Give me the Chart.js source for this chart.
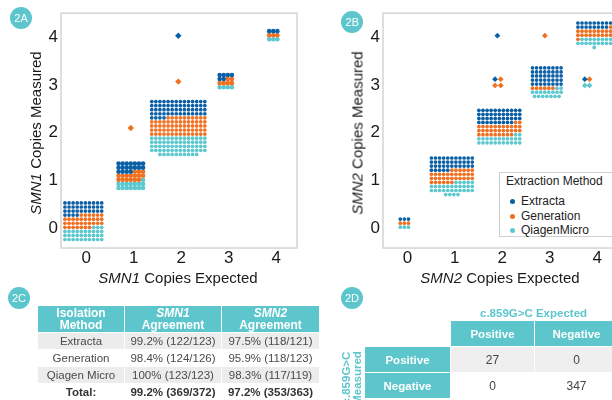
<!DOCTYPE html>
<html>
<head>
<meta charset="utf-8">
<script src="https://cdn.jsdelivr.net/npm/chart.js@4.4.1/dist/chart.umd.min.js"></script>
<style>
body { margin:0; width:612px; height:400px; overflow:hidden; position:relative; background:#fff;
       font-family:"Liberation Sans", Arial, sans-serif; }
canvas { position:absolute; top:0; }
.badge { position:absolute; width:22px; height:22px; border-radius:50%; background:#5cc6cc; color:#fff;
         font-size:11px; line-height:22px; text-align:center; }
.axtitle { position:absolute; font-size:15px; color:#1a1a1a; white-space:nowrap; transform:translate(-50%,-50%); }
.axtitle.rot { transform:translate(-50%,-50%) rotate(-90deg); }
.legend { position:absolute; left:499px; top:172px; width:112px; height:63px; border:1px solid #cfcfcf;
          background:#fff; font-size:12px; color:#222; }
.legend div { position:absolute; white-space:nowrap; }
.legend .dot { width:5px; height:5px; border-radius:50%; }
table { position:absolute; border-collapse:collapse; table-layout:fixed; }
td, th { padding:0; text-align:center; border:1.5px solid #fff; white-space:nowrap; }
th { background:#5cc6cc; color:#fff; font-weight:bold; }
#tblC th { font-size:12px; line-height:12px; height:26px; }
#tblC td { font-size:11.5px; color:#4a4a4a; height:16px; }
#tblC tr.g td { background:#ececec; }
#tblC tr.tot td { font-weight:bold; color:#333; }
#tblD th { font-size:11.5px; height:25px; }
#tblD td { font-size:12px; color:#444; height:25px; }
#tblD td.g { background:#efefef; }
#tblD td.blank { background:#fff; }
.dlabel { position:absolute; font-size:11.5px; font-weight:bold; color:#5cc6cc; white-space:nowrap; }
</style>
</head>
<body>
<canvas id="chartA" width="306" height="290" style="left:0"></canvas>
<canvas id="chartB" width="320" height="290" style="left:306px"></canvas>

<div class="badge" style="left:10px; top:7px">2A</div>
<div class="badge" style="left:341px; top:11px">2B</div>
<div class="badge" style="left:8px; top:287px">2C</div>
<div class="badge" style="left:341px; top:287px">2D</div>

<div class="axtitle rot" style="left:35px; top:133px"><i>SMN1</i> Copies Measured</div>
<div class="axtitle" style="left:178px; top:277px"><i>SMN1</i> Copies Expected</div>
<div class="axtitle rot" style="left:357px; top:133px"><i>SMN2</i> Copies Measured</div>
<div class="axtitle" style="left:500px; top:277px"><i>SMN2</i> Copies Expected</div>

<div class="legend" id="legendB">
  <div style="left:6px; top:1px">Extraction Method</div>
</div>

<table id="tblC" style="left:37px; top:305px; width:282px">
  <colgroup><col style="width:87px"><col style="width:97px"><col style="width:98px"></colgroup>
  <tr><th>Isolation<br>Method</th><th><i>SMN1</i><br>Agreement</th><th><i>SMN2</i><br>Agreement</th></tr>
  <tr class="g"><td>Extracta</td><td>99.2% (122/123)</td><td>97.5% (118/121)</td></tr>
  <tr><td>Generation</td><td>98.4% (124/126)</td><td>95.9% (118/123)</td></tr>
  <tr class="g"><td>Qiagen Micro</td><td>100% (123/123)</td><td>98.3% (117/119)</td></tr>
  <tr class="tot"><td>Total:</td><td>99.2% (369/372)</td><td>97.2% (353/363)</td></tr>
</table>

<div class="dlabel" style="left:480px; top:307px">c.859G&gt;C Expected</div>
<table id="tblD" style="left:364px; top:320px; width:254px">
  <colgroup><col style="width:86px"><col style="width:84px"><col style="width:84px"></colgroup>
  <tr><td class="blank"></td><th>Positive</th><th>Negative</th></tr>
  <tr><th>Positive</th><td class="g">27</td><td class="g">0</td></tr>
  <tr><th>Negative</th><td>0</td><td>347</td></tr>
</table>
<div class="dlabel" style="left:352px; top:378px; line-height:11px; text-align:center;
     transform:translate(-50%,-50%) rotate(-90deg)">c.859G&gt;C<br>Measured</div>

<script>
const methods = ["Extracta", "Generation", "QiagenMicro"];
const methodColors = ["#0b5fa5", "#f07022", "#5ec8cf"];
const copyTicks = [0, 1, 2, 3, 4];

// SMN1: concordant samples, one entry per expected copy number
const smn1Expected = [0, 1, 2, 3, 4];
const smn1Measured = [0.15, 1.1, 2.1, 3.08, 4.04];
const smn1Extracta = [34, 18, 60, 6, 3];
const smn1Generation = [33, 16, 66, 6, 3];
const smn1Qiagen = [33, 15, 66, 4, 3];
// SMN1: discordant samples
const smn1OddX = [2, 2, 1];
const smn1OddY = [4.03, 3.07, 2.1];
const smn1OddMethod = [0, 1, 1];

// SMN2: concordant samples
const smn2Expected = [0, 1, 2, 3, 4];
const smn2Measured = [0.11, 1.09, 2.13, 3.06, 4.04];
const smn2Extracta = [3, 38, 42, 40, 17];
const smn2Generation = [3, 34, 33, 6, 20];
const smn2Qiagen = [3, 31, 24, 17, 18];
// SMN2: discordant samples
const smn2OddX = [1.96, 2.96, 1.91, 2.03, 1.91, 2.03, 3.8, 3.9, 3.8, 3.9];
const smn2OddY = [4.03, 4.03, 3.12, 3.12, 2.99, 2.99, 3.12, 3.12, 2.99, 2.99];
const smn2OddMethod = [0, 1, 0, 1, 1, 1, 0, 1, 2, 2];

// grid layout of each cell (columns, dot radius)
const smn1Cols = [10, 7, 14, 4, 3];
const smn1Dot = [1.85, 2.3, 1.85, 2.3, 2.3];
const smn2Cols = [3, 11, 11, 8, 9];
const smn2Dot = [1.85, 1.85, 1.85, 1.85, 1.85];

const STEP_X = 0.086, STEP_Y = 0.085;
const FONT = "'Liberation Sans', Arial, sans-serif";

// stack the samples of one cell in a grid, top row first, method after method
function cellPoints(cx, cy, counts, cols, radius) {
    const total = counts[0] + counts[1] + counts[2];
    const rows = Math.ceil(total / cols);
    const out = [[], [], []];
    let i = 0;
    counts.forEach((n, m) => {
        for (let k = 0; k < n; k++, i++) {
            const r = Math.floor(i / cols);
            const inRow = r === rows - 1 ? total - r * cols : cols;
            const c = i % cols;
            out[m].push({
                x: cx + (c - (inRow - 1) / 2) * STEP_X,
                y: cy + ((rows - 1) / 2 - r) * STEP_Y,
                r: radius
            });
        }
    });
    return out;
}

function buildDatasets(expected, measured, perMethod, cols, dots, oddX, oddY, oddM, oddRadius) {
    const sets = methods.map((name, m) => ({
        label: name,
        data: [],
        backgroundColor: methodColors[m],
        borderColor: methodColors[m],
        pointBorderWidth: 0,
        pointRadius: c => c.raw.r,
        pointStyle: c => (c.raw && c.raw.odd) ? "rectRot" : "circle"
    }));
    expected.forEach((x, k) => {
        const pts = cellPoints(x, measured[k], perMethod.map(a => a[k]), cols[k], dots[k]);
        pts.forEach((p, m) => sets[m].data.push(...p));
    });
    oddX.forEach((x, k) => {
        sets[oddM[k]].data.push({ x: x, y: oddY[k], r: oddRadius, odd: true });
    });
    return sets;
}

// light grey box round the plot area
const framePlugin = {
    id: "frame",
    beforeDatasetsDraw(chart) {
        const { ctx, chartArea: a } = chart;
        ctx.save();
        ctx.strokeStyle = "#d4d4d4";
        ctx.lineWidth = 1.5;
        ctx.strokeRect(a.left, a.top, a.right - a.left, a.bottom - a.top);
        ctx.restore();
    }
};

function makeOptions(xMin, xMax, yWidth, padRight) {
    const tickFont = { size: 17, family: FONT };
    return {
        responsive: false,
        animation: false,
        devicePixelRatio: 1,
        layout: { padding: { top: 10, right: padRight, bottom: 0, left: 0 } },
        plugins: { legend: { display: false }, tooltip: { enabled: false } },
        scales: {
            x: {
                type: "linear", min: xMin, max: xMax,
                afterBuildTicks: s => { s.ticks = copyTicks.map(v => ({ value: v })); },
                afterFit: s => { s.height = 42; },
                grid: { display: false, drawTicks: false },
                border: { display: false },
                ticks: { font: tickFont, color: "#1a1a1a", padding: 0, labelOffset: 3 }
            },
            y: {
                type: "linear", min: -0.41, max: 4.5,
                afterBuildTicks: s => { s.ticks = copyTicks.map(v => ({ value: v })); },
                afterFit: s => { s.width = yWidth; },
                grid: { display: false, drawTicks: false },
                border: { display: false },
                ticks: { font: tickFont, color: "#1a1a1a", padding: 3 }
            }
        }
    };
}

new Chart(document.getElementById("chartA"), {
    type: "scatter",
    data: {
        datasets: buildDatasets(smn1Expected, smn1Measured,
            [smn1Extracta, smn1Generation, smn1Qiagen], smn1Cols, smn1Dot,
            smn1OddX, smn1OddY, smn1OddMethod, 3.2)
    },
    options: makeOptions(-0.47, 4.5, 61, 9),
    plugins: [framePlugin]
});

new Chart(document.getElementById("chartB"), {
    type: "scatter",
    data: {
        datasets: buildDatasets(smn2Expected, smn2Measured,
            [smn2Extracta, smn2Generation, smn2Qiagen], smn2Cols, smn2Dot,
            smn2OddX, smn2OddY, smn2OddMethod, 2.9)
    },
    options: makeOptions(-0.45, 4.5, 77, 8),
    plugins: [framePlugin]
});

// legend for panel B
const legendEl = document.getElementById("legendB");
methods.forEach((name, m) => {
    const top = 21 + m * 14.5;
    legendEl.insertAdjacentHTML("beforeend",
        `<div class="dot" style="left:10px; top:${top + 5}px; background:${methodColors[m]}"></div>` +
        `<div style="left:21px; top:${top}px">${name}</div>`);
});
</script>
</body>
</html>
